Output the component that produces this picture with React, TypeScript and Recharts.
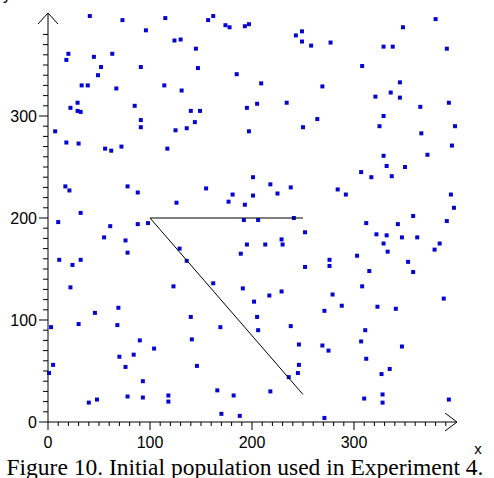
import { ScatterChart, Scatter, XAxis, YAxis } from "recharts";

// initial population (x, y)
const popX = [
  41, 73, 96, 115, 124, 130, 145, 157, 162, 174, 178, 193, 197,
  20, 18, 45, 63, 52, 49, 91, 147, 185,
  33, 39, 67, 114, 131,
  29, 22, 29, 32, 85, 91, 91, 140, 149, 144, 136, 125, 195, 197, 7,
  18, 30, 56, 62, 72, 117,
  17, 21, 78, 88, 126, 155, 181, 177, 193, 32,
  243, 249, 249, 258, 277, 380, 348, 329, 338, 391, 308, 209, 269, 345, 336, 321, 345, 365, 393, 205, 234, 264, 329, 250, 325, 399, 366, 396, 329, 372, 332, 350, 307, 317, 337, 201, 218, 238, 225, 201, 284, 292, 395, 398, 358, 391, 241, 206,
  10, 61, 88, 98, 55, 76, 78, 11, 24, 32, 129, 136, 192, 195, 189, 162, 191, 123, 22, 46, 69, 140, 3, 30, 68, 169, 90, 141, 104, 70, 84, 76, 146, 5, 1, 93, 166, 40, 48, 78, 93, 118, 118, 182, 170, 188,
  252, 213, 229, 230, 252, 276, 276, 312, 322, 332, 329, 333, 343, 347, 362, 384, 379, 303, 353, 358, 315, 202, 217, 229, 279, 271, 288, 308, 323, 341, 388, 205, 206, 238, 311, 307, 347, 246, 269, 275, 312, 246, 245, 236, 335, 327, 218, 310, 328, 328, 393, 271,
];
const popY = [
  398, 394, 384, 396, 374, 375, 366, 394, 398, 389, 387, 388, 390,
  361, 355, 358, 361, 348, 340, 348, 347, 341,
  330, 330, 327, 330, 325,
  313, 308, 305, 304, 310, 296, 289, 305, 305, 294, 288, 286, 308, 285, 285,
  274, 273, 268, 266, 270, 268,
  231, 227, 231, 225, 215, 229, 223, 216, 213, 205,
  379, 383, 373, 369, 372, 395, 387, 368, 368, 366, 349, 332, 329, 333, 323, 319, 318, 309, 313, 312, 313, 297, 300, 289, 290, 290, 283, 271, 261, 262, 251, 250, 245, 240, 241, 240, 233, 230, 224, 222, 228, 223, 223, 210, 202, 197, 200, 198,
  196, 192, 194, 195, 181, 178, 166, 159, 154, 159, 170, 158, 198, 174, 165, 136, 131, 133, 132, 107, 112, 103, 93, 96, 95, 93, 80, 81, 72, 64, 66, 54, 55, 56, 48, 40, 31, 19, 22, 25, 24, 26, 20, 26, 8, 6,
  186, 174, 179, 174, 152, 159, 153, 195, 184, 183, 175, 167, 194, 181, 181, 175, 169, 163, 157, 147, 148, 118, 124, 128, 125, 109, 114, 133, 113, 111, 121, 103, 90, 94, 90, 79, 74, 76, 75, 70, 62, 56, 48, 44, 52, 47, 30, 23, 27, 19, 22, 4,
];

// the black path drawn over the population
const pathX = [250, 100, 250];
const pathY = [200, 200, 27];

const axisLabels = [0, 100, 200, 300];
const xTicks = [...Array.from({ length: 40 }, (_, i) => i * 10), 400];
const yTicks = [...Array.from({ length: 39 }, (_, i) => i * 10), 400];

const popData = popX.map((x, i) => ({ x, y: popY[i] }));
const pathData = pathX.map((x, i) => ({ x, y: pathY[i] }));

const FONT = "'Liberation Sans', Arial, sans-serif";

function XTick({ x, y, payload }: any) {
  const v = payload.value;
  if (v === 400) {
    return (
      <g>
        <path d={`M${x - 11},${y - 9} L${x + 1},${y} L${x - 11},${y + 9}`} fill="none" stroke="#000" />
        <text x={x + 22} y={y + 32} textAnchor="middle" fontFamily={FONT} fontSize={15} fill="#000">x</text>
      </g>
    );
  }
  const major = v % 100 === 0;
  return (
    <g>
      <line x1={x} y1={y} x2={x} y2={y + (major ? 8 : 4)} stroke="#000" />
      {axisLabels.includes(v) && (
        <text x={x} y={y + 26} textAnchor="middle" fontFamily={FONT} fontSize={16} fill="#000">{v}</text>
      )}
    </g>
  );
}

function YTick({ x, y, payload }: any) {
  const v = payload.value;
  if (v === 400) {
    return (
      <g>
        <path d={`M${x - 10},${y + 10} L${x},${y - 1} L${x + 10},${y + 10}`} fill="none" stroke="#000" />
        <text x={x - 41} y={y - 14} textAnchor="middle" fontFamily={FONT} fontSize={16} fill="#000">y</text>
      </g>
    );
  }
  const major = v % 100 === 0;
  return (
    <g>
      <line x1={x - (major ? 9 : 5)} y1={y} x2={x} y2={y} stroke="#000" />
      {axisLabels.includes(v) && (
        <text x={x - 11} y={y + 6} textAnchor="end" fontFamily={FONT} fontSize={16} fill="#000">{v}</text>
      )}
    </g>
  );
}

const Square = ({ cx, cy }: any) => (
  <rect x={cx - 2} y={cy - 2} width={4} height={4} fill="#0505d2" />
);

const NoDot = () => <g />;

export default function App() {
  return (
    <div style={{ position: "absolute", left: 0, top: 0, width: 494, height: 478, background: "#fff", overflow: "hidden" }}>
      <ScatterChart width={494} height={460} margin={{ top: 14, right: 38, left: 8, bottom: 18 }}>
        <XAxis
          type="number"
          dataKey="x"
          domain={[0, 400]}
          ticks={xTicks}
          interval={0}
          tickSize={0}
          tickMargin={0}
          height={20}
          axisLine={{ stroke: "#000" }}
          tick={<XTick />}
        />
        <YAxis
          type="number"
          dataKey="y"
          domain={[0, 400]}
          ticks={yTicks}
          interval={0}
          tickSize={0}
          tickMargin={0}
          width={40}
          axisLine={{ stroke: "#000" }}
          tick={<YTick />}
        />
        <Scatter data={popData} shape={<Square />} isAnimationActive={false} />
        <Scatter
          data={pathData}
          line={{ stroke: "#000", strokeWidth: 1 }}
          shape={<NoDot />}
          isAnimationActive={false}
        />
      </ScatterChart>
      <svg width={494} height={478} style={{ position: "absolute", left: 0, top: 0, pointerEvents: "none" }}>
        <text
          x={6.5}
          y={475}
          textLength={477}
          lengthAdjust="spacingAndGlyphs"
          fontFamily="'Liberation Serif', 'Times New Roman', serif"
          fontSize={22.5}
          fill="#000"
        >
          Figure 10. Initial population used in Experiment 4.
        </text>
      </svg>
    </div>
  );
}
